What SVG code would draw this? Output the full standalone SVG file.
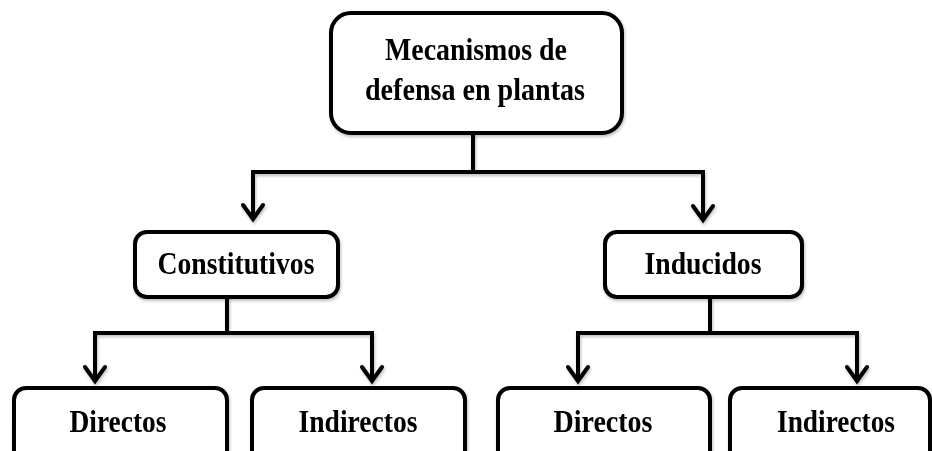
<svg xmlns="http://www.w3.org/2000/svg" width="932" height="451" viewBox="0 0 932 451">
<defs>
<filter id="sh" x="-10%" y="-10%" width="120%" height="130%">
<feDropShadow dx="1" dy="2" stdDeviation="1.5" flood-color="#000" flood-opacity="0.25"/>
</filter>
<path id="head" d="M-10,-15 L0,-1 L10,-15" fill="none" stroke="#000" stroke-width="4" stroke-linecap="round"/>
<style>
.box{fill:#fff;stroke:#000;stroke-width:4}
.ln{fill:none;stroke:#000;stroke-width:4}
.t{font-family:"Liberation Serif","Times New Roman",serif;font-weight:bold;font-size:31px;fill:#000;text-anchor:middle}
</style>
</defs>
<rect width="932" height="451" fill="#fff"/>
<g id="connectors" filter="url(#sh)">
<path class="ln" d="M473,133 V172"/>
<path class="ln" d="M251,172 H705"/>
<path class="ln" d="M253,172 V219"/>
<use href="#head" x="253" y="220"/>
<path class="ln" d="M703,172 V220"/>
<use href="#head" x="703" y="221"/>
<path class="ln" d="M227,297 V333"/>
<path class="ln" d="M93,333 H374"/>
<path class="ln" d="M95,333 V381"/>
<use href="#head" x="95" y="382"/>
<path class="ln" d="M372,333 V381"/>
<use href="#head" x="372" y="382"/>
<path class="ln" d="M710,297 V333"/>
<path class="ln" d="M576,333 H859"/>
<path class="ln" d="M578,333 V381"/>
<use href="#head" x="578" y="382"/>
<path class="ln" d="M857,333 V381"/>
<use href="#head" x="857" y="382"/>
</g>
<g id="root" filter="url(#sh)">
<rect class="box" x="331" y="13" width="291" height="120" rx="20"/>
<text class="t" x="476" y="60" textLength="182" lengthAdjust="spacingAndGlyphs">Mecanismos de</text>
<text class="t" x="475" y="100" textLength="220" lengthAdjust="spacingAndGlyphs">defensa en plantas</text>
</g>
<g id="constitutivos" filter="url(#sh)">
<rect class="box" x="135" y="232" width="203" height="65" rx="12"/>
<text class="t" x="236" y="274" textLength="157" lengthAdjust="spacingAndGlyphs">Constitutivos</text>
</g>
<g id="inducidos" filter="url(#sh)">
<rect class="box" x="605" y="232" width="197" height="65" rx="12"/>
<text class="t" x="703" y="274" textLength="117" lengthAdjust="spacingAndGlyphs">Inducidos</text>
</g>
<g id="c-directos" filter="url(#sh)">
<rect class="box" x="14" y="388" width="213" height="80" rx="12"/>
<text class="t" x="118" y="432" textLength="97" lengthAdjust="spacingAndGlyphs">Directos</text>
</g>
<g id="c-indirectos" filter="url(#sh)">
<rect class="box" x="252" y="388" width="213" height="80" rx="12"/>
<text class="t" x="358" y="432" textLength="119" lengthAdjust="spacingAndGlyphs">Indirectos</text>
</g>
<g id="i-directos" filter="url(#sh)">
<rect class="box" x="498" y="388" width="212" height="80" rx="12"/>
<text class="t" x="603" y="432" textLength="99" lengthAdjust="spacingAndGlyphs">Directos</text>
</g>
<g id="i-indirectos" filter="url(#sh)">
<rect class="box" x="730" y="388" width="200" height="80" rx="12"/>
<text class="t" x="836" y="432" textLength="118" lengthAdjust="spacingAndGlyphs">Indirectos</text>
</g>
</svg>
